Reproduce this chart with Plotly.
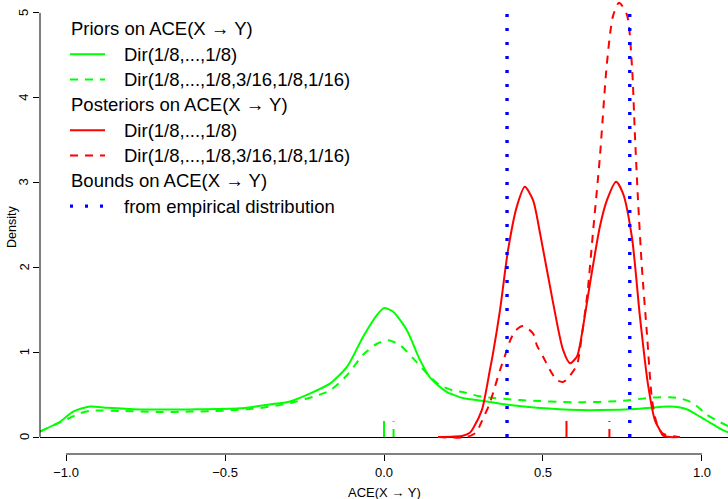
import plotly.graph_objects as go

# ---- data ----
green_solid_x = [-1.082, -1.019, -0.978, -0.925, -0.871, -0.767, -0.610, -0.453, -0.349, -0.296,
                 -0.223, -0.170, -0.116, -0.066, -0.022, 0.0, 0.028, 0.072, 0.113, 0.145, 0.167,
                 0.198, 0.217, 0.248, 0.302, 0.324, 0.390, 0.481, 0.616, 0.679, 0.805, 0.899,
                 0.950, 0.994, 1.025, 1.057, 1.082]
green_solid_y = [0.065, 0.18, 0.30, 0.36, 0.345, 0.326, 0.326, 0.338, 0.39, 0.42,
                 0.53, 0.63, 0.83, 1.18, 1.44, 1.52, 1.48, 1.26, 0.91, 0.70, 0.62,
                 0.53, 0.50, 0.46, 0.43, 0.42, 0.38, 0.346, 0.318, 0.318, 0.335, 0.36,
                 0.33, 0.24, 0.17, 0.10, 0.055]

green_dash_x = [-1.082, -1.009, -0.956, -0.925, -0.821, -0.714, -0.610, -0.506, -0.399, -0.296,
                -0.223, -0.170, -0.116, -0.066, -0.022, 0.013, 0.050, 0.091, 0.145, 0.176,
                0.217, 0.248, 0.302, 0.428, 0.616, 0.742, 0.846, 0.899, 0.931, 0.972, 1.013,
                1.044, 1.082]
green_dash_y = [0.065, 0.19, 0.28, 0.31, 0.307, 0.295, 0.30, 0.31, 0.338, 0.40,
                0.475, 0.55, 0.73, 0.97, 1.10, 1.14, 1.085, 0.93, 0.71, 0.61,
                0.55, 0.53, 0.48, 0.436, 0.41, 0.425, 0.465, 0.47, 0.456, 0.40, 0.27,
                0.20, 0.13]

red_solid_x = [0.17, 0.248, 0.270, 0.280, 0.308, 0.333, 0.343, 0.365, 0.390, 0.418, 0.443,
               0.469, 0.491, 0.531, 0.563, 0.585, 0.607, 0.616, 0.648, 0.679, 0.701, 0.730,
               0.752, 0.780, 0.805, 0.830, 0.852, 0.868, 0.877, 0.899, 0.931]
red_solid_y = [0.0, 0.015, 0.05, 0.10, 0.32, 0.79, 0.99, 1.50, 2.20, 2.72, 2.95,
               2.79, 2.40, 1.60, 1.03, 0.87, 0.95, 1.08, 1.81, 2.48, 2.79, 3.01,
               2.87, 2.35, 1.42, 0.63, 0.2, 0.08, 0.02, 0.0, 0.0]

red_dash_x = [0.17, 0.261, 0.292, 0.302, 0.333, 0.343, 0.365, 0.387, 0.398, 0.415, 0.437,
              0.469, 0.481, 0.500, 0.522, 0.544, 0.563, 0.575, 0.607, 0.616, 0.640, 0.657,
              0.679, 0.701, 0.720, 0.739, 0.764, 0.780, 0.789, 0.799, 0.811, 0.827, 0.843,
              0.858, 0.877, 0.925]
red_dash_y = [0.0, 0.0, 0.06, 0.14, 0.40, 0.52, 0.79, 1.03, 1.15, 1.26, 1.31,
              1.22, 1.08, 0.95, 0.79, 0.67, 0.65, 0.68, 0.85, 1.03, 1.70, 2.40,
              3.3, 4.4, 4.96, 5.12, 4.98, 4.37, 3.58, 2.79, 2.01, 1.22, 0.44,
              0.16, 0.04, 0.0]

rug_x = [0.0, 0.030, 0.574, 0.709]
rug_height = 0.19
bounds_x = [0.387, 0.773]
bounds_top = 5

x_ticks = [-1.0, -0.5, 0.0, 0.5, 1.0]
x_ticktext = ["\u22121.0", "\u22120.5", "0.0", "0.5", "1.0"]
y_ticks = [0, 1, 2, 3, 4, 5]
y_ticktext = ["0", "1", "2", "3", "4", "5"]

legend_rows = [
    ("Priors on ACE(X \u2192 Y)", None, None),
    ("Dir(1/8,...,1/8)", "#00FF00", "solid"),
    ("Dir(1/8,...,1/8,3/16,1/8,1/16)", "#00FF00", "dash"),
    ("Posteriors on ACE(X \u2192 Y)", None, None),
    ("Dir(1/8,...,1/8)", "#FF0000", "solid"),
    ("Dir(1/8,...,1/8,3/16,1/8,1/16)", "#FF0000", "dash"),
    ("Bounds on ACE(X \u2192 Y)", None, None),
    ("from empirical distribution", "#0000FF", "dot"),
]

GREEN = "#00FF00"
RED = "#FF0000"
BLUE = "#0000FF"
DASH = "8px,7px"
DOT = "3px,11px"
FONT = "Liberation Sans, Arial, Helvetica, sans-serif"

W, H = 728, 499
ML, MR, MT, MB = 40, 0, 0, 45
PW, PH = W - ML - MR, H - MT - MB

fig = go.Figure()

def curve(x, y, color, dash):
    fig.add_trace(go.Scatter(x=x, y=y, mode="lines", showlegend=False, hoverinfo="skip",
                             line=dict(color=color, width=2, dash=dash, shape="spline", smoothing=0.7)))

curve(green_solid_x, green_solid_y, GREEN, "solid")
curve(green_dash_x, green_dash_y, GREEN, DASH)
curve(red_solid_x, red_solid_y, RED, "solid")
curve(red_dash_x, red_dash_y, RED, DASH)

# rug marks (means)
rug_styles = [(GREEN, "solid"), (GREEN, DASH), (RED, "solid"), (RED, DASH)]
for xv, (c, d) in zip(rug_x, rug_styles):
    fig.add_trace(go.Scatter(x=[xv, xv], y=[0, rug_height], mode="lines", showlegend=False,
                             hoverinfo="skip", line=dict(color=c, width=2, dash=d)))

# bounds
for xv in bounds_x:
    fig.add_trace(go.Scatter(x=[xv, xv], y=[0, bounds_top], mode="lines", showlegend=False,
                             hoverinfo="skip", line=dict(color=BLUE, width=3.4, dash=DOT)))

shapes = []
# x axis line from -1 to 1
shapes.append(dict(type="line", xref="x", yref="paper", x0=-1, x1=1, y0=0, y1=0,
                   line=dict(color="black", width=1)))
# y axis line from 0 to 5
shapes.append(dict(type="line", xref="paper", yref="y", x0=0, x1=0, y0=0, y1=5,
                   line=dict(color="black", width=1)))

annotations = []
row0, step = 29, 25.3
for i, (txt, col, sty) in enumerate(legend_rows):
    py = row0 + step * i
    yp = 1 - (py - MT) / PH
    tx = 69 if col is None else 122
    annotations.append(dict(text=txt, xref="paper", yref="paper", x=(tx - ML) / PW, y=yp,
                            xanchor="left", yanchor="middle", showarrow=False,
                            font=dict(size=18.5, color="black", family=FONT)))
    if col is not None:
        if sty == "dot":
            ln = dict(color=col, width=3.4, dash="3px,12px")
            x1 = 104
        elif sty == "dash":
            ln = dict(color=col, width=2, dash=DASH)
            x1 = 105
        else:
            ln = dict(color=col, width=2)
            x1 = 105
        shapes.append(dict(type="line", xref="paper", yref="paper", x0=(70 - ML) / PW,
                           x1=(x1 - ML) / PW, y0=yp, y1=yp, line=ln))

# y tick labels (rotated, parallel to the axis as in R)
for v, t in zip(y_ticks, y_ticktext):
    annotations.append(dict(text=t, xref="paper", yref="y", x=(24 - ML) / PW, y=v,
                            xanchor="center", yanchor="middle", showarrow=False,
                            textangle=-90, font=dict(size=13, color="black", family=FONT)))

# axis titles
annotations.append(dict(text="ACE(X \u2192 Y)", xref="x", yref="paper", x=0, y=-(493 - PH) / PH,
                        xanchor="center", yanchor="middle", showarrow=False,
                        font=dict(size=13, color="black", family=FONT)))
annotations.append(dict(text="Density", xref="paper", yref="paper", x=(12 - ML) / PW,
                        y=1 - 227 / PH, xanchor="center", yanchor="middle", showarrow=False,
                        textangle=-90, font=dict(size=12.5, color="black", family=FONT)))

fig.update_layout(
    width=W, height=H,
    margin=dict(l=ML, r=MR, t=MT, b=MB, pad=0, autoexpand=False),
    paper_bgcolor="white", plot_bgcolor="white",
    font=dict(family=FONT, color="black", size=13),
    shapes=shapes, annotations=annotations,
    xaxis=dict(range=[-1.082, 1.082], showgrid=False, zeroline=False, showline=False,
               automargin=False,
               ticks="outside", ticklen=6, tickwidth=1, tickcolor="black",
               tickvals=x_ticks, ticktext=x_ticktext, tickfont=dict(size=13)),
    yaxis=dict(range=[-0.2, 5.153], showgrid=False, zeroline=True, zerolinecolor="black",
               zerolinewidth=1, showline=False, ticks="outside", ticklen=6, tickwidth=1,
               automargin=False, showticklabels=False,
               tickcolor="black", tickvals=y_ticks),
)

fig.write_html("out.html", config={"displayModeBar": False},
               post_script="document.body.style.margin='0';document.body.style.overflow='hidden';")
